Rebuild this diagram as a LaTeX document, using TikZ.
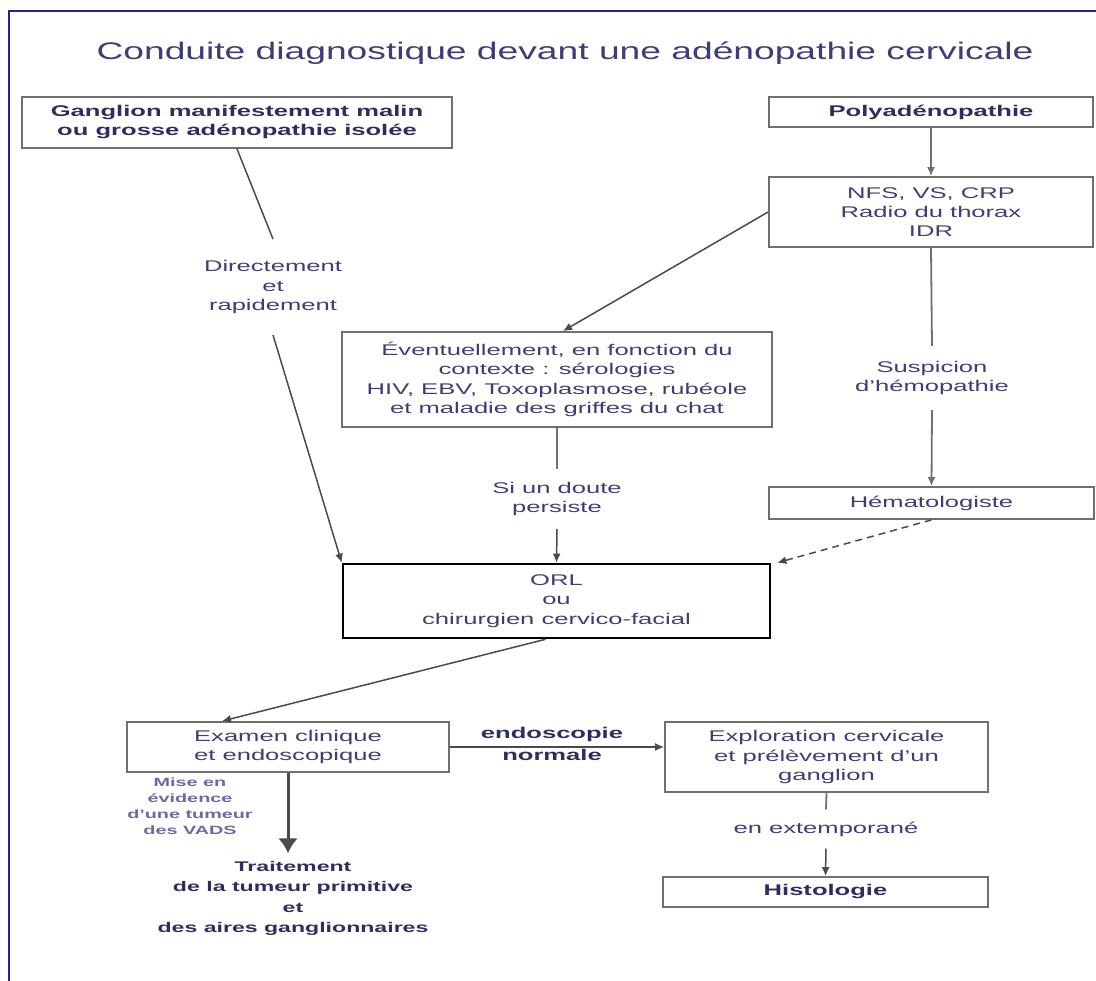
\documentclass[tikz,border=0pt]{standalone}
\usepackage{fontspec}
\setmainfont{Liberation Sans}[FakeStretch=1.65]
\newfontfamily\titlefont{Liberation Sans}[FakeStretch=1.55]
\usetikzlibrary{arrows.meta}
\definecolor{txtblue}{HTML}{3E3E76}
\definecolor{boldblue}{HTML}{2E2E5E}
\definecolor{paleblue}{HTML}{6A6AA4}
\definecolor{framblue}{HTML}{24248E}
\definecolor{boxgray}{HTML}{707070}
\definecolor{linegray}{HTML}{4A4A4A}
\begin{document}
\begin{tikzpicture}[x=1pt, y=-1pt, >={Latex[length=9pt,width=8pt]},
    box/.style={draw=boxgray, line width=1.8pt, align=center, text=txtblue, inner sep=0pt, font=\fontsize{15.5}{19.3}\selectfont},
    boldbox/.style={box, text=boldblue, font=\fontsize{15.5}{19}\selectfont\bfseries},
    lbl/.style={align=center, text=txtblue, inner xsep=2pt, font=\fontsize{15.5}{19.5}\selectfont},
    link/.style={draw=linegray, line width=1.5pt}]
\useasboundingbox (0,0) rectangle (1096,981);
\draw[framblue, line width=2.5pt] (1100,11) -- (9,11) -- (9,985);
\node[text=txtblue, font=\titlefont\fontsize{24}{28}\selectfont] (title) at (565,53) {Conduite diagnostique devant une adénopathie cervicale};
% boxes
\node[boldbox, minimum width=430pt, minimum height=51pt] (malin) at (237,122.5) {Ganglion manifestement malin\\ou grosse adénopathie isolée};
\node[boldbox, minimum width=324pt, minimum height=30pt] (poly) at (931,112) {Polyadénopathie};
\node[box, minimum width=324pt, minimum height=70pt] (nfs) at (931,212) {NFS, VS, CRP\\Radio du thorax\\IDR};
\node[box, minimum width=430pt, minimum height=95pt] (sero) at (557,379.5) {Éventuellement, en fonction du\\contexte : sérologies\\HIV, EBV, Toxoplasmose, rubéole\\et maladie des griffes du chat};
\node[box, minimum width=325pt, minimum height=32pt] (hemato) at (931.5,503) {Hématologiste};
\node[box, draw=black, line width=2.6pt, minimum width=427pt, minimum height=74pt] (orl) at (556.5,601) {ORL\\ou\\chirurgien cervico-facial};
\node[box, minimum width=322pt, minimum height=50pt] (examen) at (288,747) {Examen clinique\\et endoscopique};
\node[box, minimum width=323pt, minimum height=70pt] (explo) at (826.5,757) {Exploration cervicale\\et prélèvement d'un\\ganglion};
\node[boldbox, minimum width=325pt, minimum height=30pt] (histo) at (825.5,892) {Histologie};
% labels
\node[lbl, inner ysep=21pt] (direct) at (273,287) {Directement\\et\\rapidement};
\node[lbl, inner ysep=13pt] (doute) at (557,499) {Si un doute\\persiste};
\node[lbl, inner ysep=15pt] (suspic) at (932,378) {Suspicion\\d'hémopathie};
\node[lbl, text=boldblue, font=\fontsize{15.5}{22}\selectfont\bfseries] (normale) at (552,744) {endoscopie\\normale};
\node[lbl, inner ysep=12pt] (extempo) at (826,829) {en extemporané};
\node[lbl, text=paleblue, font=\fontsize{12}{16}\selectfont\bfseries] (vads) at (190,806) {Mise en\\évidence\\d'une tumeur\\des VADS};
\node[lbl, text=boldblue, inner ysep=8pt, font=\fontsize{14}{20.3}\selectfont\bfseries] (traite) at (293,898.5) {Traitement\\de la tumeur primitive\\et\\des aires ganglionnaires};
% connectors
\draw[link, boxgray, line width=1.8pt, ->] (poly) -- (nfs);
\draw[link, ->] (nfs.west) -- ([xshift=6pt]sero.north);
\draw[link] (malin.south) -- (direct.north);
\draw[link, ->] (direct.south) -- (orl.north west);
\draw[link, boxgray, line width=1.8pt] (sero.south) -- (doute.north);
\draw[link, ->] (doute.south) -- (orl.north);
\draw[link, boxgray, line width=1.8pt] (nfs.south) -- (suspic.north);
\draw[link, boxgray, line width=1.8pt, ->] (suspic.south) -- (hemato.north);
\draw[link, dash pattern=on 7pt off 5pt, ->] (hemato.south) -- ([xshift=6pt]orl.north east);
\draw[link, ->] ([xshift=-11pt]orl.south) -- ([xshift=-66pt]examen.north);
\draw[link, ->] (examen.east) -- (examen.east -| explo.west);
\draw[linegray, line width=3pt, -{Latex[length=15pt,width=20pt]}] (examen.south) -- (examen.south |- traite.north);
\draw[link, boxgray, line width=1.8pt] (explo.south) -- (extempo.north);
\draw[link, ->] (extempo.south) -- (histo.north);
\end{tikzpicture}
\end{document}
